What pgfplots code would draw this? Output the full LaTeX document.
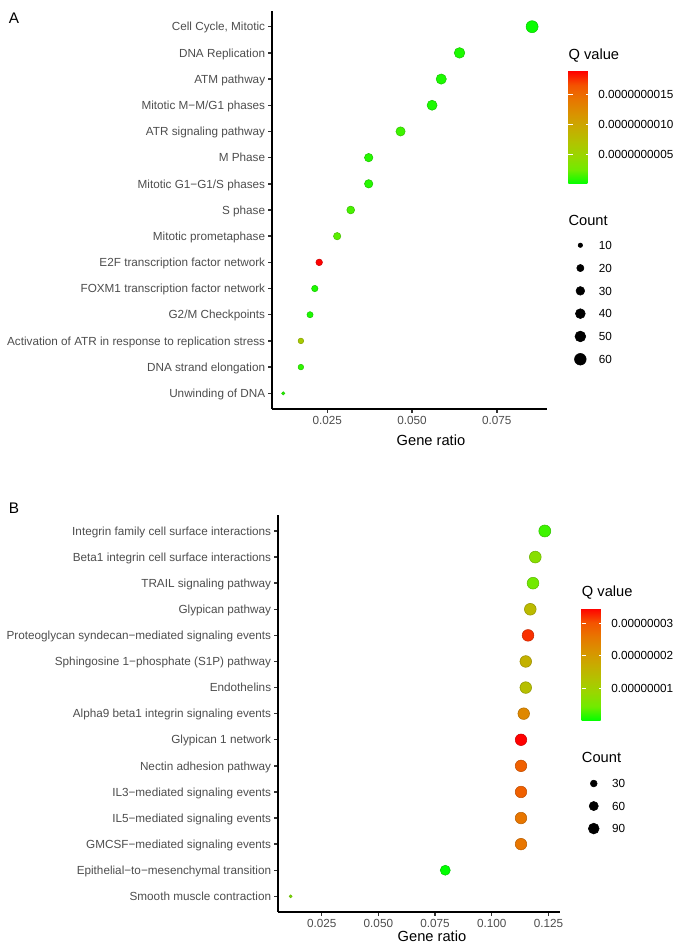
\documentclass[border=0pt]{standalone}
\usepackage{pgfplots}
\pgfplotsset{compat=1.18}
\usepackage{fontspec}
\setmainfont{Liberation Sans}
\definecolor{grey30}{HTML}{4D4D4D}
\definecolor{grey20}{HTML}{333333}
\newcommand\smallfont{\fontsize{8.8}{10}\selectfont}
\newcommand\bigfont{\fontsize{11}{13}\selectfont}
\pgfplotsset{colormap={gr}{rgb255=(0,255,0) rgb255=(112,235,0) rgb255=(152,215,0) rgb255=(179,194,0) rgb255=(200,171,0) rgb255=(218,146,0) rgb255=(232,118,0) rgb255=(244,83,0) rgb255=(255,0,0)}}
\pgfplotsset{
 dotplot/.style={
  scale only axis, clip=false,
  /pgf/number format/assume math mode=true,
  scaled x ticks=false, scaled y ticks=false,
  axis x line*=bottom, axis y line*=left,
  axis line style={black, line width=1.07pt},
  tick style={grey20, line width=1.07pt},
  major tick length=2.75pt, tick align=outside,
  ytick={1,...,15}, ymin=0.4, ymax=15.6,
  xticklabel style={font=\smallfont, text=grey30, inner sep=0pt, yshift=-2.2pt},
  yticklabel style={font=\smallfont, text=grey30, inner sep=0pt, xshift=-2.2pt, text height=6.3pt, text depth=0pt},
  xlabel style={font=\bigfont, anchor=center},
  colormap name=gr,
  colorbar,
  legend cell align=left,
  legend image code/.code={\path (0pt,0pt) (17.25pt,0pt); \draw[##1] plot coordinates {(8.625pt,0pt)};},
 }
}
\begin{document}
\begin{tikzpicture}
\useasboundingbox (0,0) rectangle (507.75pt,711.75pt);
\node[font=\fontsize{11.5}{13}\selectfont, inner sep=0pt] at (10.5pt,698.25pt) {A};
\node[font=\fontsize{11.5}{13}\selectfont, inner sep=0pt] at (10.5pt,330.75pt) {B};

% ---------------- Panel A ----------------
\begin{axis}[dotplot,
  at={(204pt,405pt)}, anchor=south west,
  width=206.25pt, height=298.5pt,
  xmin=0.00868, xmax=0.0898,
  xtick={0.025,0.05,0.075}, xticklabels={0.025,0.050,0.075},
  yticklabels={Unwinding of DNA, DNA strand elongation, Activation of ATR in response to replication stress, G2/M Checkpoints, FOXM1 transcription factor network, E2F transcription factor network, Mitotic prometaphase, S phase, Mitotic G1−G1/S phases, M Phase, ATR signaling pathway, Mitotic M−M/G1 phases, ATM pathway, DNA Replication, {Cell Cycle, Mitotic}},
  xlabel={Gene ratio},
  xlabel style={at={(axis description cs:0.578,-0.0796)}},
  point meta min=0, point meta max=1.9e-9,
  colorbar shift/.style={xshift=16pt, yshift=-45pt},
  colorbar style={at={(parent axis.north east)}, anchor=north west,
    scale only axis, width=17pt, height=84.75pt,
    scaled y ticks=false,
    axis line style={draw=none},
    ytick={0.5e-9,1e-9,1.5e-9}, yticklabels={0.0000000005,0.0000000010,0.0000000015},
    tick style={white, line width=0.6pt}, major tick length=3.4pt, tick align=inside,
    ytick pos=both, yticklabel pos=right,
    yticklabel style={font=\smallfont, text=black, inner sep=0pt, xshift=5.25pt}},
  legend style={draw=none, fill=none, at={(1.0775,0.4407)}, anchor=north west, inner sep=0pt, row sep=0pt, column sep=5pt, font=\smallfont, nodes={minimum height=17.1pt, inner sep=0pt, text height=6.3pt, text depth=0pt}},
]
\addplot[scatter, only marks, mark=*, forget plot, point meta=explicit,
  visualization depends on={value \thisrow{count}\as\cnt},
  scatter/@pre marker code/.append style={/tikz/mark size={0.375*(3.3+8.7*sqrt((\cnt-9)/55))}}]
  table[x=ratio, y=y, meta=q]{
  y ratio q count
  15 0.0854 0.02e-9 64
  14 0.0640 0.06e-9 48
  13 0.0586 0.06e-9 44
  12 0.0559 0.06e-9 42
  11 0.0466 0.13e-9 35
  10 0.0372 0.08e-9 28
  9  0.0372 0.08e-9 28
  8  0.0319 0.15e-9 24
  7  0.0279 0.19e-9 21
  6  0.0226 1.90e-9 17
  5  0.0213 0.06e-9 16
  4  0.0199 0.06e-9 15
  3  0.0172 0.61e-9 13
  2  0.0172 0.10e-9 13
  1  0.0120 0.08e-9 9
  };
\addlegendimage{black, mark=*, only marks, mark size=1.68}\addlegendentry{10}
\addlegendimage{black, mark=*, only marks, mark size=2.70}\addlegendentry{20}
\addlegendimage{black, mark=*, only marks, mark size=3.25}\addlegendentry{30}
\addlegendimage{black, mark=*, only marks, mark size=3.69}\addlegendentry{40}
\addlegendimage{black, mark=*, only marks, mark size=4.05}\addlegendentry{50}
\addlegendimage{black, mark=*, only marks, mark size=4.38}\addlegendentry{60}
\node[anchor=west, font=\bigfont, inner sep=0pt] at (axis description cs:1.0775,0.8884) {Q value};
\node[anchor=west, font=\bigfont, inner sep=0pt] at (axis description cs:1.0775,0.4749) {Count};
\end{axis}

% ---------------- Panel B ----------------
\begin{axis}[dotplot,
  at={(208.5pt,27.75pt)}, anchor=south west,
  width=211.5pt, height=297.5pt,
  xmin=0.00573, xmax=0.1301,
  xtick={0.025,0.05,0.075,0.1,0.125}, xticklabels={0.025,0.050,0.075,0.100,0.125},
  yticklabels={Smooth muscle contraction, Epithelial−to−mesenchymal transition, GMCSF−mediated signaling events, IL5−mediated signaling events, IL3−mediated signaling events, Nectin adhesion pathway, Glypican 1 network, Alpha9 beta1 integrin signaling events, Endothelins, Sphingosine 1−phosphate (S1P) pathway, Proteoglycan syndecan−mediated signaling events, Glypican pathway, TRAIL signaling pathway, Beta1 integrin cell surface interactions, Integrin family cell surface interactions},
  xlabel={Gene ratio},
  xlabel style={at={(axis description cs:0.546,-0.0613)}},
  point meta min=0, point meta max=3.45e-8,
  colorbar shift/.style={xshift=16.3pt, yshift=-69.75pt},
  colorbar style={at={(parent axis.north east)}, anchor=north west,
    scale only axis, width=16.7pt, height=84.3pt,
    scaled y ticks=false,
    axis line style={draw=none},
    ytick={1e-8,2e-8,3e-8}, yticklabels={0.00000001,0.00000002,0.00000003},
    tick style={white, line width=0.6pt}, major tick length=3.4pt, tick align=inside,
    ytick pos=both, yticklabel pos=right,
    yticklabel style={font=\smallfont, text=black, inner sep=0pt, xshift=5.25pt}},
  legend style={draw=none, fill=none, at={(1.077,0.353)}, anchor=north west, inner sep=0pt, row sep=0pt, column sep=5pt, font=\smallfont, nodes={minimum height=16.9pt, inner sep=0pt, text height=6.3pt, text depth=0pt}},
]
\addplot[scatter, only marks, mark=*, forget plot, point meta=explicit,
  visualization depends on={value \thisrow{count}\as\cnt},
  scatter/@pre marker code/.append style={/tikz/mark size={0.375*(3+9*sqrt((\cnt-11)/105))}}]
  table[x=ratio, y=y, meta=q]{
  y ratio q count
  15 0.1234 0.24e-8 116
  14 0.1192 0.69e-8 112
  13 0.1182 0.45e-8 111
  12 0.1170 1.45e-8 110
  11 0.1160 3.20e-8 109
  10 0.1150 1.62e-8 108
  9  0.1150 1.35e-8 108
  8  0.1141 2.31e-8 107
  7  0.1129 3.45e-8 106
  6  0.1129 2.86e-8 106
  5  0.1129 2.86e-8 106
  4  0.1129 2.59e-8 106
  3  0.1129 2.59e-8 106
  2  0.0795 0.001e-8 75
  1  0.0113 0.59e-8 11
  };
\addlegendimage{black, mark=*, only marks, mark size=2.56}\addlegendentry{30}
\addlegendimage{black, mark=*, only marks, mark size=3.43}\addlegendentry{60}
\addlegendimage{black, mark=*, only marks, mark size=4.05}\addlegendentry{90}
\node[anchor=west, font=\bigfont, inner sep=0pt] at (axis description cs:1.077,0.8049) {Q value};
\node[anchor=west, font=\bigfont, inner sep=0pt] at (axis description cs:1.077,0.390) {Count};
\end{axis}
\end{tikzpicture}
\end{document}
